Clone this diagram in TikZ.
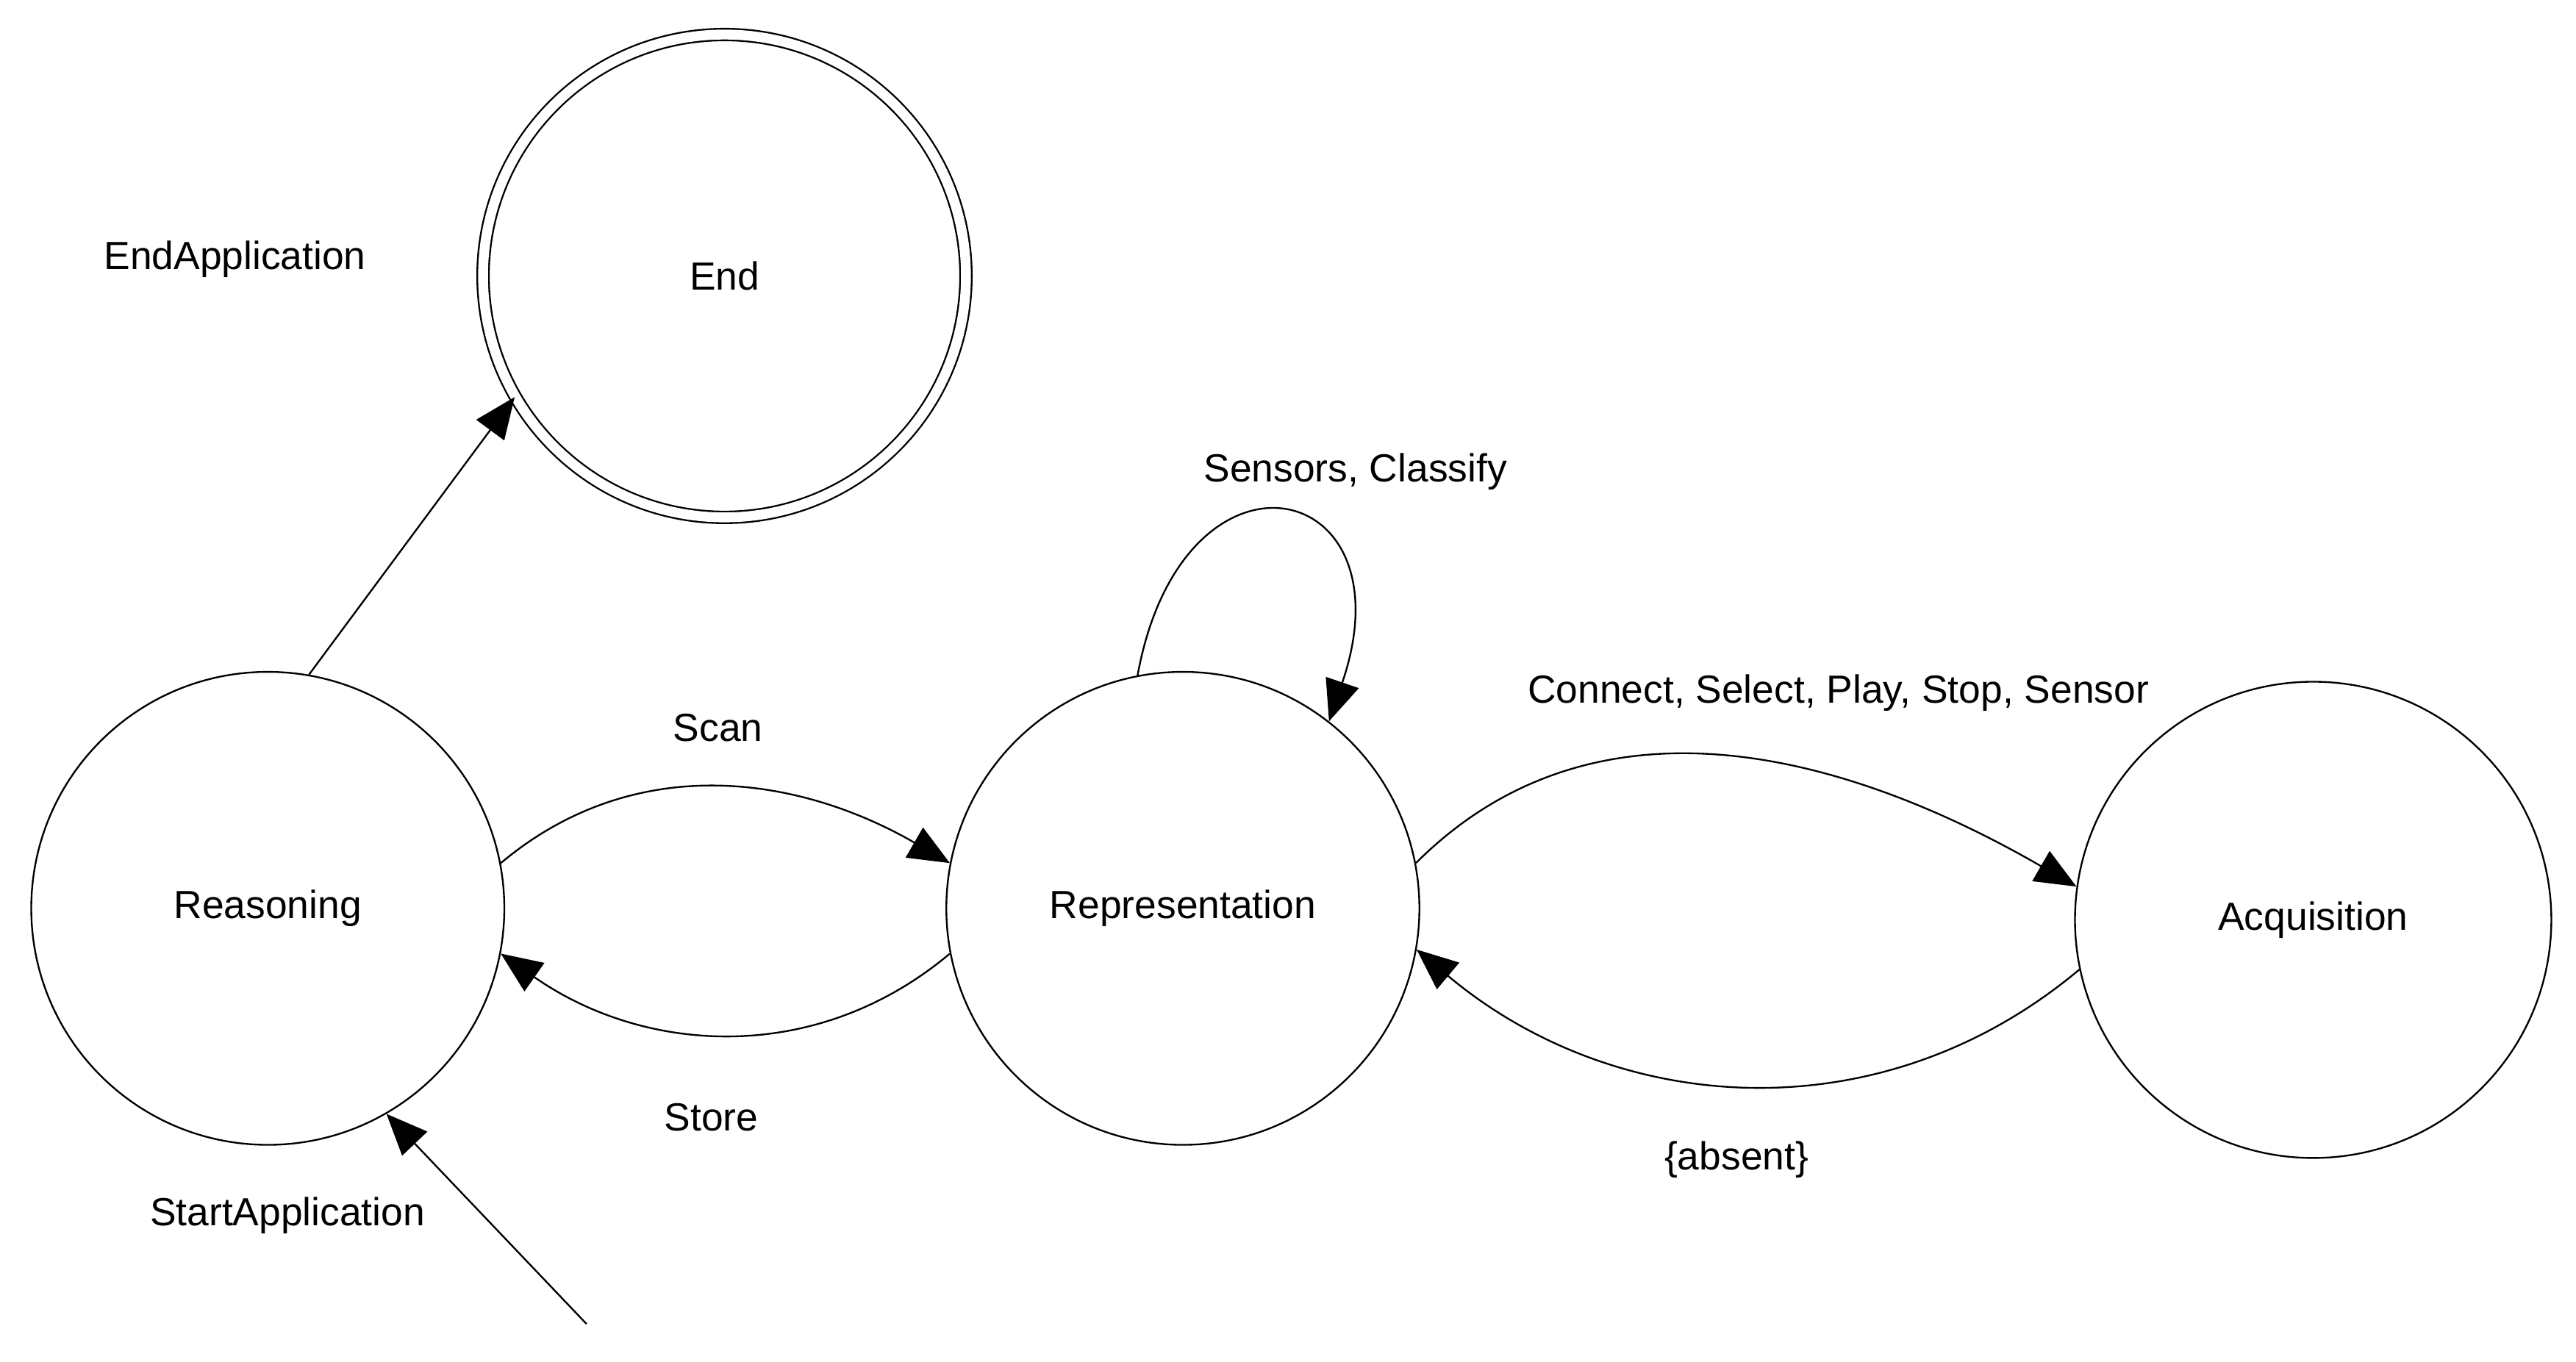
\documentclass[tikz,border=0pt]{standalone}
\usepackage{fontspec}
\setmainfont{Liberation Sans}
\usetikzlibrary{arrows.meta}
\begin{document}
\begin{tikzpicture}[x=0.02cm, y=-0.02cm, -{Triangle[length=0.5cm, width=0.42cm]}, line width=0.6pt,
  state/.style={circle, draw, minimum size=5.76cm, inner sep=0pt},
  lbl/.style={font=\fontsize{13.6}{16}\selectfont}]
   \useasboundingbox (0,0) rectangle (1568,829);
   \node [state, lbl] (reasoning) at (163,553) {Reasoning};
   \node [state, lbl, minimum size=5.88cm, double, double distance=0.12cm] (end) at (441,168) {End};
   \node [state, lbl] (repr) at (720,553) {Representation};
   \node [state, lbl, minimum size=5.8cm] (acq) at (1408,560) {Acquisition};
   \coordinate (start) at (357,806);

   \node [lbl] (lendapp) at (143,158) {EndApplication};
   \node [lbl] (lscan) at (437,443) {Scan};
   \node [lbl] (lstore) at (433,680) {Store};
   \node [lbl] (lstartapp) at (175,740) {StartApplication};
   \node [lbl] (lsensors) at (825,287) {Sensors, Classify};
   \node [lbl] (lconnect) at (1119,422) {Connect, Select, Play, Stop, Sensor};
   \node [lbl] (labsent) at (1057,706) {\{absent\}};

   \draw (reasoning.80) -- (end.210);
   \draw (start) -- (reasoning.-60);
   \draw (reasoning.11) to[out=40, in=150] (repr.169);
   \draw (repr.191) to[out=220, in=-35] (reasoning.349);
   \draw (repr.101) .. controls (720,260) and (860,290) .. (repr.52);
   \draw (repr.11) to[out=45, in=150] (acq.172);
   \draw (acq.192) to[out=220, in=-40] (repr.350);
\end{tikzpicture}
\end{document}
